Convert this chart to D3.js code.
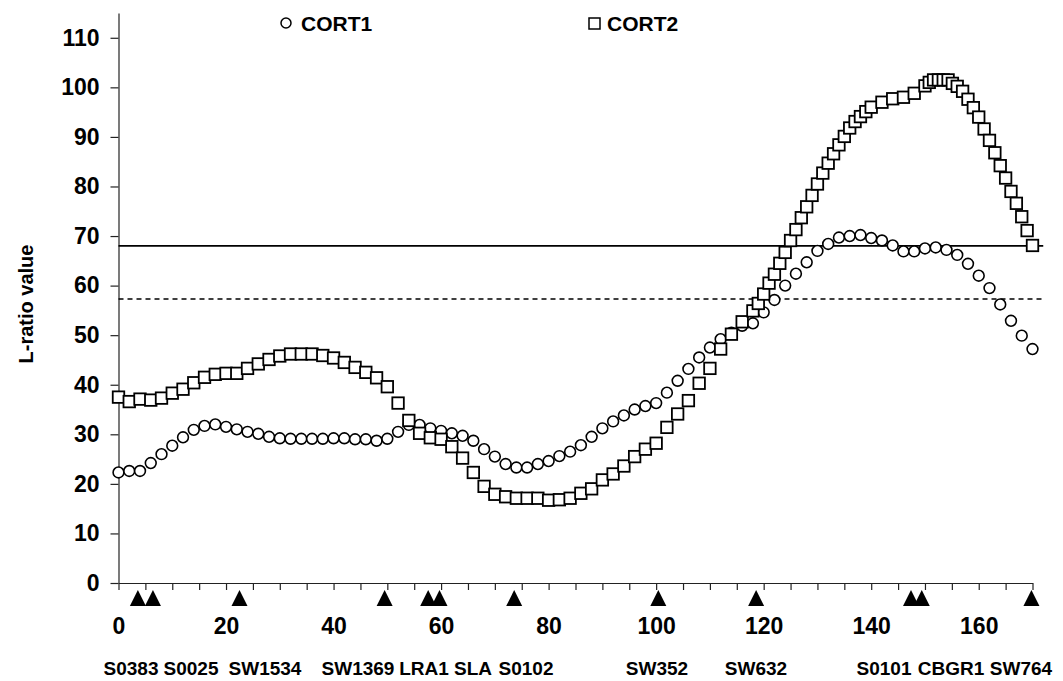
<!DOCTYPE html>
<html>
<head>
<meta charset="utf-8">
<script src="https://cdn.jsdelivr.net/npm/d3@7"></script>
<style>
  body { margin: 0; background: #fff; }
  text { font-family: "Liberation Sans", Arial, sans-serif; font-weight: bold; fill: #000; }
</style>
</head>
<body>
<script>
// data
var cort1Pos = [0,2,4,6,8,10,12,14,16,18,20,22,24,26,28,30,32,34,36,38,40,42,44,46,48,50,
                52,54,56,58,60,62,64,66,68,70,72,74,76,78,80,82,84,86,88,90,92,94,96,98,100,
                102,104,106,108,110,112,114,116,118,120,122,124,126,128,130,132,134,136,138,140,
                142,144,146,148,150,152,154,156,158,160,162,164,166,168,170];
var cort1Val = [22.3,22.6,22.6,24.2,26.0,27.7,29.4,30.9,31.7,32.0,31.5,31.0,30.5,30.1,29.5,29.2,29.1,29.1,29.1,29.1,29.2,
                29.2,29.0,29.0,28.7,29.1,30.5,31.9,31.9,31.2,30.7,30.2,29.7,28.7,27.0,25.5,24.0,23.3,23.3,24.0,24.6,
                25.6,26.5,27.8,29.5,31.2,32.6,33.8,35.0,35.7,36.3,38.4,40.8,43.2,45.5,47.5,49.2,50.5,51.9,52.4,54.6,
                57.1,60.0,62.4,64.7,67.0,68.4,69.7,70.0,70.2,69.6,69.1,68.1,66.9,66.9,67.5,67.7,67.2,66.2,64.4,62.0,
                59.5,56.2,52.9,49.9,47.2];

var cort2Pos = [0,2,4,6,8,10,12,14,16,18,20,22,24,26,28,30,32,34,36,38,40,42,44,46,48,50,
                52,54,56,58,60,62,64,66,68,70,72,74,76,78,80,82,84,86,88,90,92,94,96,98,100,
                102,104,106,108,110,112,114,116,118,119,120,121,122,123,124,125,126,127,128,129,
                130,131,132,133,134,135,136,137,138,139,140,142,144,146,148,150,150.8,151.6,152.5,
                153.4,154.3,155.1,156,157,158,159,160,161,162,163,164,165,166,167,168,169,170];
var cort2Val = [37.5,36.6,37.1,36.9,37.3,38.3,39.1,40.4,41.5,42.1,42.3,42.3,43.3,44.2,45.1,45.8,46.2,46.2,46.2,45.9,45.4,
                44.5,43.5,42.5,41.4,39.6,36.3,32.8,30.2,29.3,29.0,27.5,25.2,22.3,19.5,17.9,17.4,17.1,17.1,17.1,16.7,
                16.8,17.1,18.1,19.0,20.8,22.0,23.6,25.5,27.0,28.2,31.4,34.1,36.8,40.3,43.3,47.2,50.2,52.7,54.9,56.4,
                58.3,60.5,62.3,64.5,66.7,69.1,71.3,73.7,75.9,78.2,80.5,82.7,84.7,86.6,88.4,90.1,91.8,93.1,94.1,95.1,
                96.0,97.0,97.7,98.0,98.8,100.3,101.0,101.5,101.5,101.5,101.5,100.8,100.2,99.2,97.6,95.9,94.0,91.6,89.3,
                86.8,84.2,81.7,79.0,76.6,73.9,71.1,68.1];

var markerNames = ["S0383","S0025","SW1534","SW1369","LRA1","SLA","S0102","SW352","SW632","S0101","CBGR1","SW764"];
var markerPos = [3.6,6.4,22.5,49.5,57.6,59.7,73.6,100.4,118.6,147.4,149.4,169.8];

var yTicks = [0,10,20,30,40,50,60,70,80,90,100,110];
var xTickLabels = [0,20,40,60,80,100,120,140,160];
var thresholds = [68.0, 57.3];   // solid, dashed
var seriesNames = ["CORT1","CORT2"];

// layout
var W = 1063, H = 681;
var svg = d3.select("body").append("svg")
    .attr("width", W).attr("height", H)
    .style("background", "#fff");

var x = d3.scaleLinear().domain([0, 170]).range([118.5, 1032.5]);
var y = d3.scaleLinear().domain([0, 115]).range([583, 13]);

// y axis
var yAxis = svg.append("g")
    .attr("transform", "translate(118.5,0)")
    .call(d3.axisLeft(y).tickValues(yTicks).tickSize(8).tickSizeOuter(0).tickPadding(11));
yAxis.selectAll("text").style("font-size", "23px");

// x axis, minor ticks every 5, labels every 20
var xAxis = svg.append("g")
    .attr("transform", "translate(0,583)")
    .call(d3.axisBottom(x).tickValues(d3.range(0, 171, 5)).tickSize(7).tickSizeOuter(0).tickPadding(28)
        .tickFormat(function(d) { return xTickLabels.indexOf(d) >= 0 ? d : ""; }));
xAxis.selectAll("text").style("font-size", "23px");
svg.selectAll(".domain, .tick line").attr("stroke", "#222").attr("stroke-width", 1.2);

// threshold lines
svg.selectAll("line.thr")
    .data(thresholds)
    .enter().append("line")
    .attr("class", "thr")
    .attr("x1", x(0)).attr("x2", x(172))
    .attr("y1", function(d) { return y(d); })
    .attr("y2", function(d) { return y(d); })
    .attr("stroke", "#000")
    .attr("stroke-width", 1.7)
    .attr("stroke-dasharray", function(d, i) { return i == 1 ? "5,4" : null; });

// CORT1 circles
svg.append("g").selectAll("circle")
    .data(cort1Pos)
    .enter().append("circle")
    .attr("cx", function(d) { return x(d); })
    .attr("cy", function(d, i) { return y(cort1Val[i]); })
    .attr("r", 5.4)
    .attr("fill", "#fff")
    .attr("stroke", "#000")
    .attr("stroke-width", 1.6);

// CORT2 squares
var sq = 11.5;
svg.append("g").selectAll("rect")
    .data(cort2Pos)
    .enter().append("rect")
    .attr("x", function(d) { return x(d) - sq / 2; })
    .attr("y", function(d, i) { return y(cort2Val[i]) - sq / 2; })
    .attr("width", sq).attr("height", sq)
    .attr("fill", "#fff")
    .attr("stroke", "#000")
    .attr("stroke-width", 1.8);

// marker triangles
svg.append("g").selectAll("path")
    .data(markerPos)
    .enter().append("path")
    .attr("d", function(d) {
        var cx = x(d);
        return "M" + (cx - 8) + ",606L" + (cx + 8) + ",606L" + cx + ",590Z";
    })
    .attr("fill", "#000");

// marker names (laid out as one text row under the axis)
var markerLabelX = [131, 191, 265, 358, 424, 473, 526, 657, 756, 884, 951, 1021];
svg.append("g").selectAll("text")
    .data(markerNames)
    .enter().append("text")
    .attr("x", function(d, i) { return markerLabelX[i]; })
    .attr("y", 675)
    .attr("text-anchor", "middle")
    .style("font-size", "19px")
    .text(function(d) { return d; });

// y title
svg.append("text")
    .attr("transform", "translate(33,304) rotate(-90)")
    .attr("text-anchor", "middle")
    .style("font-size", "20px")
    .text("L-ratio value");

// legend
var leg = svg.append("g");
leg.append("circle").attr("cx", 286).attr("cy", 23).attr("r", 5)
    .attr("fill", "#fff").attr("stroke", "#000").attr("stroke-width", 1.5);
leg.append("text").attr("x", 301).attr("y", 31).style("font-size", "21px").text(seriesNames[0]);
leg.append("rect").attr("x", 589).attr("y", 18).attr("width", 11).attr("height", 11)
    .attr("fill", "#fff").attr("stroke", "#000").attr("stroke-width", 1.5);
leg.append("text").attr("x", 607).attr("y", 31).style("font-size", "21px").text(seriesNames[1]);
</script>
</body>
</html>
